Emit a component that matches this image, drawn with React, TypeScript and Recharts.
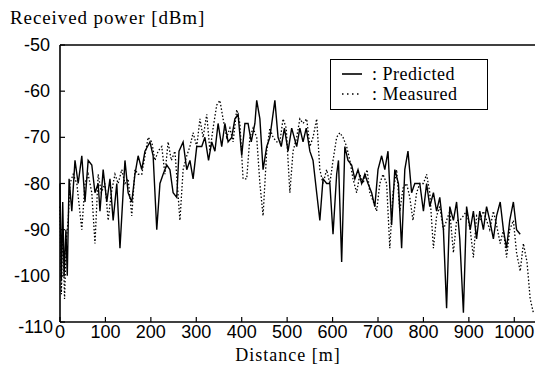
import { LineChart, Line, XAxis, YAxis } from 'recharts'

// Distance [m] and received power [dBm]
const predictedDistance = [
  0, 3, 6, 9, 13, 16, 20, 26, 33, 40, 48, 55, 62, 70, 77, 84, 88, 95, 103, 110,
  117, 125, 132, 143, 150, 158, 165, 172, 180, 187, 198, 205, 213, 220, 227, 235, 242, 249, 257, 262,
  271, 279, 286, 293, 301, 312, 319, 327, 334, 341, 348, 356, 363, 370, 378, 385, 392, 400, 407, 414,
  421, 429, 433, 440, 447, 455, 462, 473, 480, 487, 494, 502, 510, 521, 528, 535, 542, 550, 557, 565,
  572, 579, 587, 594, 601, 609, 613, 620, 627, 634, 642, 649, 656, 664, 671, 678, 686, 693, 700, 708,
  715, 722, 730, 737, 745, 752, 759, 766, 774, 781, 792, 800, 807, 814, 822, 829, 836, 844, 851, 858,
  866, 873, 880, 888, 895, 903, 910, 917, 924, 932, 939, 946, 954, 961, 969, 976, 983, 990, 998, 1005,
  1013,
]
const predictedPower = [
  -80, -101, -84, -100, -90, -100, -79, -86, -75, -80, -74, -84, -75, -76, -82, -80, -86, -77, -84, -79,
  -88, -80, -94, -75, -82, -84, -78, -74, -77, -73, -71, -74, -90, -80, -78, -76, -77, -82, -83, -73,
  -71, -77, -75, -79, -72, -72, -70, -75, -71, -73, -67, -72, -67, -71, -70, -66, -65, -74, -67, -67,
  -71, -67, -62, -66, -77, -72, -70, -62, -70, -72, -68, -73, -68, -72, -68, -71, -68, -73, -75, -82,
  -88, -79, -80, -80, -91, -78, -75, -97, -72, -75, -76, -79, -77, -80, -78, -80, -82, -85, -77, -74,
  -77, -73, -89, -77, -80, -94, -77, -73, -82, -80, -80, -86, -80, -85, -82, -86, -83, -90, -107, -85,
  -88, -84, -92, -108, -85, -90, -86, -92, -86, -90, -85, -88, -92, -87, -84, -90, -94, -88, -84, -90,
  -91,
]

const measuredDistance = [
  0, 3, 6, 10, 14, 18, 22, 29, 37, 48, 55, 62, 70, 77, 84, 91, 99, 106, 113, 121,
  128, 136, 143, 150, 158, 165, 172, 180, 187, 194, 202, 209, 216, 224, 231, 238, 245, 253, 264, 271,
  279, 286, 293, 301, 308, 315, 323, 330, 337, 345, 352, 359, 367, 374, 381, 389, 396, 403, 411, 418,
  425, 433, 440, 447, 455, 462, 469, 477, 484, 491, 498, 506, 513, 521, 528, 535, 543, 550, 557, 565,
  572, 579, 587, 594, 601, 609, 616, 623, 631, 638, 645, 653, 660, 667, 676, 682, 690, 697, 704, 711,
  719, 726, 733, 741, 748, 755, 763, 770, 777, 785, 792, 800, 807, 814, 822, 829, 836, 844, 851, 858,
  866, 873, 880, 888, 895, 903, 910, 917, 924, 932, 939, 946, 954, 961, 969, 976, 983, 990, 998, 1005,
  1013, 1020, 1028, 1035, 1042,
]
const measuredPower = [
  -85, -104, -90, -105, -92, -88, -80, -78, -80, -90, -80, -78, -82, -93, -78, -82, -80, -88, -82, -78,
  -80, -77, -80, -79, -87, -77, -78, -78, -74, -70, -71, -75, -73, -72, -78, -71, -75, -73, -88, -77,
  -74, -72, -69, -72, -66, -70, -65, -73, -68, -63, -62, -66, -70, -68, -71, -64, -67, -79, -79, -70,
  -68, -70, -80, -87, -73, -68, -70, -71, -71, -66, -68, -82, -73, -70, -66, -67, -66, -72, -70, -66,
  -77, -80, -77, -80, -75, -70, -69, -70, -72, -75, -79, -82, -78, -80, -77, -82, -84, -86, -80, -78,
  -80, -94, -82, -77, -86, -81, -80, -83, -88, -82, -80, -80, -78, -82, -94, -87, -85, -90, -88, -86,
  -95, -88, -88, -87, -86, -90, -96, -87, -88, -86, -88, -90, -86, -89, -93, -90, -96, -90, -88, -95,
  -99, -93, -97, -105, -108,
]

const xTicks = [0, 100, 200, 300, 400, 500, 600, 700, 800, 900, 1000]
const yTicks = [-110, -100, -90, -80, -70, -60, -50]

const predicted = predictedDistance.map((d, i) => ({ d, p: predictedPower[i] }))
const measured = measuredDistance.map((d, i) => ({ d, p: measuredPower[i] }))

const TICK_FONT = { fontFamily: 'Liberation Sans, Arial, sans-serif', fontSize: 18, fill: '#000' }
const SERIF = '"Liberation Serif", "Times New Roman", serif'

function LeftTick({ x, y, payload }: any) {
  const low = payload.value === -110
  return (
    <g>
      <line x1={x} x2={x + 5} y1={y} y2={y} stroke="#000" strokeWidth={1.2} />
      <text x={low ? x - 7 : x - 10} y={low ? y + 11 : y + 6} textAnchor="end" {...TICK_FONT}>
        {payload.value}
      </text>
    </g>
  )
}

function BottomTick({ x, y, payload }: any) {
  return (
    <g>
      <line x1={x} x2={x} y1={y} y2={y - 5} stroke="#000" strokeWidth={1.2} />
      <text x={x} y={y + 16} textAnchor="middle" {...TICK_FONT}>
        {payload.value}
      </text>
    </g>
  )
}

function TopTick({ x, y }: any) {
  return <line x1={x} x2={x} y1={y} y2={y + 4} stroke="#000" strokeWidth={1.2} />
}

function RightTick({ x, y }: any) {
  return <line x1={x} x2={x - 4} y1={y} y2={y} stroke="#000" strokeWidth={1.2} />
}

const AXIS_LINE = { stroke: '#000', strokeWidth: 1.6 }

export default function App() {
  return (
    <div style={{ position: 'relative', width: 535, height: 363 }}>
      <div
        style={{
          position: 'absolute',
          left: 2,
          top: 0,
          fontFamily: SERIF,
          fontSize: 19,
          letterSpacing: 0.9,
          lineHeight: '20px',
        }}
      >
        Received power [dBm]
      </div>
      <LineChart
        width={535}
        height={363}
        margin={{ top: 36, right: 5, bottom: 48, left: 51 }}
      >
        <XAxis
          xAxisId="b"
          dataKey="d"
          type="number"
          domain={[0, 1050]}
          ticks={xTicks}
          height={1}
          tickSize={0}
          tickMargin={0}
          tick={<BottomTick />}
          axisLine={AXIS_LINE}
          tickLine={false}
        />
        <XAxis
          xAxisId="t"
          orientation="top"
          type="number"
          domain={[0, 1050]}
          ticks={xTicks}
          height={1}
          tickSize={0}
          tickMargin={0}
          tick={<TopTick />}
          axisLine={AXIS_LINE}
          tickLine={false}
        />
        <YAxis
          yAxisId="l"
          type="number"
          domain={[-110, -50]}
          ticks={yTicks}
          width={1}
          tickSize={0}
          tickMargin={0}
          tick={<LeftTick />}
          axisLine={AXIS_LINE}
          tickLine={false}
        />
        <YAxis
          yAxisId="r"
          orientation="right"
          type="number"
          domain={[-110, -50]}
          ticks={yTicks}
          width={1}
          tickSize={0}
          tickMargin={0}
          tick={<RightTick />}
          axisLine={AXIS_LINE}
          tickLine={false}
        />
        <Line
          xAxisId="b"
          yAxisId="l"
          data={measured}
          dataKey="p"
          stroke="#000"
          strokeWidth={1.3}
          strokeDasharray="1.5 2"
          dot={false}
          isAnimationActive={false}
        />
        <Line
          xAxisId="b"
          yAxisId="l"
          data={predicted}
          dataKey="p"
          stroke="#000"
          strokeWidth={1.4}
          dot={false}
          isAnimationActive={false}
        />
      </LineChart>
      <div
        style={{
          position: 'absolute',
          left: 322,
          top: 51,
          width: 156,
          height: 49,
          border: '1.5px solid #000',
          background: '#fff',
          fontFamily: SERIF,
          fontSize: 18,
          letterSpacing: 0.5,
        }}
      >
        <div style={{ display: 'flex', alignItems: 'center', height: 20, marginTop: 4 }}>
          <svg width={41} height={10}>
            <line x1={11} x2={31} y1={5} y2={5} stroke="#000" strokeWidth={1.6} />
          </svg>
          <span>: Predicted</span>
        </div>
        <div style={{ display: 'flex', alignItems: 'center', height: 20 }}>
          <svg width={41} height={10}>
            <line x1={11} x2={31} y1={5} y2={5} stroke="#000" strokeWidth={1.6} strokeDasharray="1.5 3.5" />
          </svg>
          <span>: Measured</span>
        </div>
      </div>
      <div
        style={{
          position: 'absolute',
          left: 0,
          width: 560,
          top: 337,
          textAlign: 'center',
          fontFamily: SERIF,
          fontSize: 18,
          letterSpacing: 1,
          lineHeight: '21px',
        }}
      >
        Distance [m]
      </div>
    </div>
  )
}
